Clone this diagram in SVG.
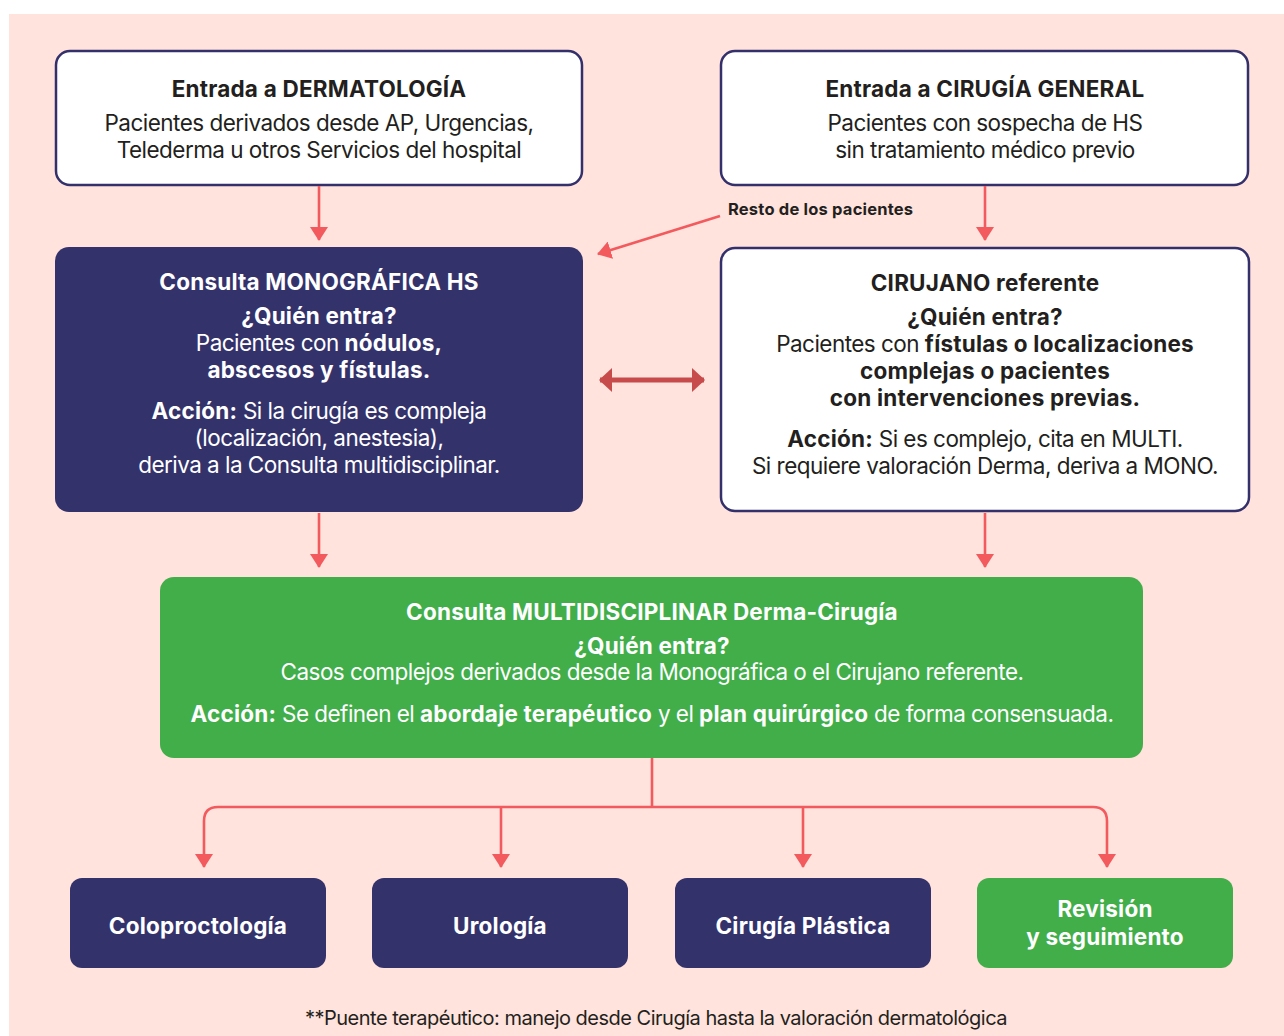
<svg xmlns="http://www.w3.org/2000/svg" width="1284" height="1036" viewBox="0 0 1284 1036">
<defs>
<style>
text{font-family:Inter,"Liberation Sans",sans-serif;font-size:22.5px;letter-spacing:-0.53px;text-anchor:middle;fill:#231f20}
.b{font-weight:700;letter-spacing:0.2px}
.w{fill:#ffffff}
.sm{font-size:16.5px;font-weight:700;text-anchor:start;letter-spacing:0.2px}
.ft{font-size:20px;letter-spacing:-0.5px}
.wbox{fill:#ffffff;stroke:#33306b;stroke-width:2.5}
.nbox{fill:#34326b}
.gbox{fill:#41ae4a}
.ln{fill:none;stroke:#f25a5e;stroke-width:2.6}
</style>
<marker id="ah" viewBox="0 0 14 18" refX="13" refY="9" markerWidth="14" markerHeight="18" markerUnits="userSpaceOnUse" orient="auto">
<path d="M0,0 L14,9 L0,18 Z" fill="#f25a5e"/>
</marker>
<marker id="dh" viewBox="0 0 13 24" refX="12" refY="12" markerWidth="13" markerHeight="24" markerUnits="userSpaceOnUse" orient="auto-start-reverse">
<path d="M0,0 L13,12 L0,24 Z" fill="#c84b4b"/>
</marker>
</defs>
<rect x="9" y="14" width="1275" height="1022" fill="#ffe3dc"/>

<g id="n-derma">
<rect class="wbox" x="56" y="51" width="526" height="134" rx="14"/>
<text class="b" x="319" y="97">Entrada a DERMATOLOGÍA</text>
<text x="319" y="131">Pacientes derivados desde AP,  Urgencias,</text>
<text x="319" y="158">Telederma u otros Servicios del hospital</text>
</g>

<g id="n-cirugia">
<rect class="wbox" x="721" y="51" width="527" height="134" rx="14"/>
<text class="b" x="985" y="97">Entrada a CIRUGÍA GENERAL</text>
<text x="985" y="131">Pacientes con sospecha de HS</text>
<text x="985" y="158">sin tratamiento médico previo</text>
</g>

<g id="n-mono">
<rect class="nbox" x="55" y="247" width="528" height="265" rx="14"/>
<text class="b w" x="319" y="290">Consulta MONOGRÁFICA HS</text>
<text class="b w" x="319" y="324">¿Quién entra?</text>
<text class="w" x="319" y="351">Pacientes con <tspan class="b">nódulos,</tspan></text>
<text class="b w" x="319" y="378">abscesos y fístulas.</text>
<text class="w" x="319" y="419"><tspan class="b">Acción:</tspan> Si la cirugía es compleja</text>
<text class="w" x="319" y="446">(localización, anestesia),</text>
<text class="w" x="319" y="473">deriva a la Consulta multidisciplinar.</text>
</g>

<g id="n-cirujano">
<rect class="wbox" x="721" y="248" width="528" height="263" rx="14"/>
<text class="b" x="985" y="291">CIRUJANO referente</text>
<text class="b" x="985" y="325">¿Quién entra?</text>
<text x="985" y="352">Pacientes con <tspan class="b">fístulas o localizaciones</tspan></text>
<text class="b" x="985" y="379">complejas o pacientes</text>
<text class="b" x="985" y="406">con intervenciones previas.</text>
<text x="985" y="447"><tspan class="b">Acción:</tspan> Si es complejo, cita en MULTI.</text>
<text x="985" y="474">Si requiere valoración Derma, deriva a MONO.</text>
</g>

<g id="n-multi">
<rect class="gbox" x="160" y="577" width="983" height="181" rx="14"/>
<text class="b w" x="652" y="620">Consulta MULTIDISCIPLINAR Derma-Cirugía</text>
<text class="b w" x="652" y="654">¿Quién entra?</text>
<text class="w" x="652" y="680">Casos complejos derivados desde la Monográfica o el Cirujano referente.</text>
<text class="w" x="652" y="722"><tspan class="b">Acción:</tspan> Se definen el <tspan class="b">abordaje terapéutico</tspan> y el <tspan class="b">plan quirúrgico</tspan> de forma consensuada.</text>
</g>

<g id="n-colo">
<rect class="nbox" x="70" y="878" width="256" height="90" rx="12"/>
<text class="b w" x="198" y="934">Coloproctología</text>
</g>
<g id="n-uro">
<rect class="nbox" x="372" y="878" width="256" height="90" rx="12"/>
<text class="b w" x="500" y="934">Urología</text>
</g>
<g id="n-plastica">
<rect class="nbox" x="675" y="878" width="256" height="90" rx="12"/>
<text class="b w" x="803" y="934">Cirugía Plástica</text>
</g>
<g id="n-revision">
<rect class="gbox" x="977" y="878" width="256" height="90" rx="12"/>
<text class="b w" x="1105" y="917">Revisión</text>
<text class="b w" x="1105" y="945">y seguimiento</text>
</g>

<g id="connectors">
<line class="ln" x1="319" y1="186" x2="319" y2="240" marker-end="url(#ah)"/>
<line class="ln" x1="985" y1="186" x2="985" y2="240" marker-end="url(#ah)"/>
<line class="ln" x1="319" y1="513" x2="319" y2="567" marker-end="url(#ah)"/>
<line class="ln" x1="985" y1="513" x2="985" y2="567" marker-end="url(#ah)"/>
<line class="ln" x1="720" y1="216" x2="598" y2="254" marker-end="url(#ah)"/>
<line x1="600" y1="380" x2="704" y2="380" stroke="#c84b4b" stroke-width="5" marker-start="url(#dh)" marker-end="url(#dh)"/>
<path class="ln" d="M652,758 V807"/>
<path class="ln" d="M652,807 H218 Q204,807 204,821 V867" marker-end="url(#ah)"/>
<path class="ln" d="M652,807 H1093 Q1107,807 1107,821 V867" marker-end="url(#ah)"/>
<line class="ln" x1="501" y1="807" x2="501" y2="867" marker-end="url(#ah)"/>
<line class="ln" x1="803" y1="807" x2="803" y2="867" marker-end="url(#ah)"/>
</g>
<text class="sm" x="728" y="215">Resto de los pacientes</text>
<text class="ft" x="656" y="1025">**Puente terapéutico: manejo desde Cirugía hasta la valoración dermatológica</text>
</svg>
